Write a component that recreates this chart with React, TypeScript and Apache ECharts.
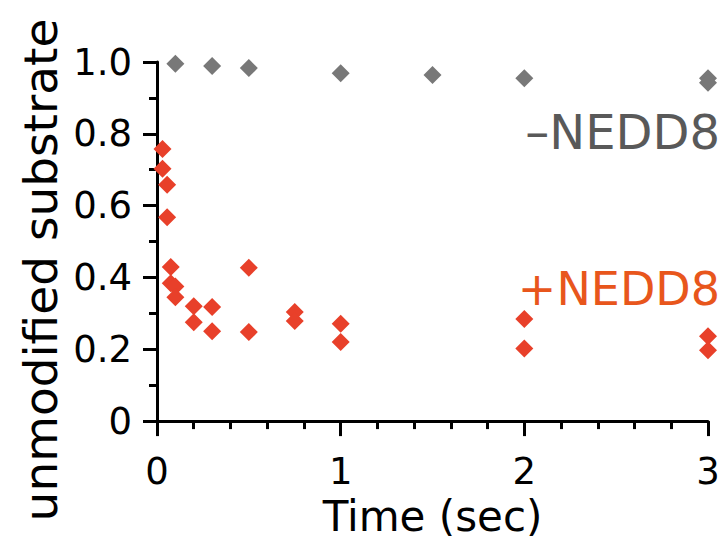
import React, { useEffect, useRef } from "react";
import * as echarts from "echarts";

const minusTimes = [0.1, 0.3, 0.5, 1, 1.5, 2, 3, 3];
const minusValues = [0.995, 0.989, 0.983, 0.969, 0.964, 0.955, 0.955, 0.942];

const plusTimes = [0.03, 0.03, 0.055, 0.055, 0.075, 0.075, 0.1, 0.1, 0.2, 0.2, 0.3, 0.3, 0.5, 0.5, 0.75, 0.75, 1, 1, 2, 2, 3, 3];
const plusValues = [0.758, 0.703, 0.658, 0.568, 0.429, 0.384, 0.375, 0.345, 0.32, 0.275, 0.318, 0.25, 0.427, 0.248, 0.304, 0.279, 0.271, 0.22, 0.284, 0.202, 0.236, 0.197];

const xTickLabels = ["0", "1", "2", "3"];
const yTickLabels = ["0", "0.2", "0.4", "0.6", "0.8", "1.0"];

const FONT = "DejaVu Sans";

export default function App() {
  const ref = useRef<HTMLDivElement>(null);
  useEffect(() => {
    document.body.style.margin = "0";
    const chart = echarts.init(ref.current!, null, { renderer: "svg" });
    const axisLineStyle = { color: "#000", width: 3 };
    chart.setOption({
      animation: false,
      grid: { left: 157, right: 18, top: 62, bottom: 114, containLabel: false },
      xAxis: {
        type: "value",
        min: 0,
        max: 3,
        interval: 1,
        name: "Time (sec)",
        nameLocation: "middle",
        nameGap: 68,
        nameTextStyle: { fontFamily: FONT, fontSize: 42, color: "#000" },
        axisLine: { show: true, lineStyle: axisLineStyle },
        axisTick: { show: true, inside: false, length: 15, lineStyle: axisLineStyle },
        minorTick: { show: true, splitNumber: 5, length: 8, lineStyle: axisLineStyle },
        splitLine: { show: false },
        axisLabel: {
          margin: 32,
          fontFamily: FONT,
          fontSize: 37,
          color: "#000",
          formatter: (v: number) => xTickLabels[Math.round(v)] ?? String(v),
        },
      },
      yAxis: {
        type: "value",
        min: 0,
        max: 1,
        interval: 0.2,
        axisLine: { show: true, lineStyle: axisLineStyle },
        axisTick: { show: true, inside: false, length: 14, lineStyle: axisLineStyle },
        minorTick: { show: true, splitNumber: 2, length: 8, lineStyle: axisLineStyle },
        splitLine: { show: false },
        axisLabel: {
          margin: 25,
          fontFamily: FONT,
          fontSize: 37,
          color: "#000",
          formatter: (v: number) => yTickLabels[Math.round(v * 5)] ?? String(v),
        },
      },
      graphic: [
        {
          type: "text",
          x: 40,
          y: 270,
          rotation: Math.PI / 2,
          style: {
            text: "unmodified substrate",
            font: `47px "${FONT}"`,
            fill: "#000",
            align: "center",
            verticalAlign: "middle",
          },
        },
        {
          type: "text",
          right: 6,
          top: 108,
          style: {
            text: "\u2013NEDD8",
            font: `48px "${FONT}"`,
            fill: "#595959",
          },
        },
        {
          type: "text",
          right: 6,
          top: 266,
          style: {
            text: "+NEDD8",
            font: `46px "${FONT}"`,
            fill: "#E8561C",
          },
        },
      ],
      series: [
        {
          name: "-NEDD8",
          type: "scatter",
          symbol: "diamond",
          symbolSize: 18,
          clip: false,
          itemStyle: { color: "#787878", opacity: 1 },
          data: minusTimes.map((t, i) => [t, minusValues[i]]),
        },
        {
          name: "+NEDD8",
          type: "scatter",
          symbol: "diamond",
          symbolSize: 18,
          clip: false,
          itemStyle: { color: "#E8402A", opacity: 1 },
          data: plusTimes.map((t, i) => [t, plusValues[i]]),
        },
      ],
    });
    return () => chart.dispose();
  }, []);
  return <div ref={ref} style={{ width: 726, height: 542 }} />;
}
